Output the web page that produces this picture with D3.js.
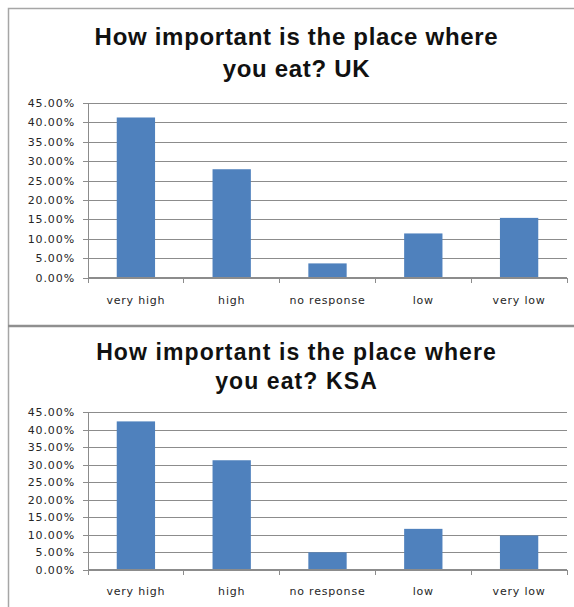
<!DOCTYPE html>
<html>
<head>
<meta charset="utf-8">
<script src="https://cdn.jsdelivr.net/npm/d3@7"></script>
<style>
  html, body { margin: 0; padding: 0; background: #fff; }
  svg { display: block; }
</style>
</head>
<body>
<svg id="chart" width="574" height="607"></svg>
<script>
// Survey answers, share of respondents (%)
const categories = ["very high", "high", "no response", "low", "very low"];
const ukValues = [41.2, 27.9, 3.7, 11.4, 15.4];
const ksaValues = [42.4, 31.3, 5.0, 11.7, 9.8];
const yTickValues = [0, 5, 10, 15, 20, 25, 30, 35, 40, 45];
const ukTitle = ["How important is the place where", "you eat? UK"];
const ksaTitle = ["How important is the place where", "you eat? KSA"];

const svg = d3.select("#chart");
const W = 574;

const barColor = "#4f81bd";
const gridColor = "#8c8c8c";
const textColor = "#262626";

// Outer frame and the divider between the two panels
svg.append("path")
  .attr("d", "M8.5,607 V8.5 H574")
  .attr("fill", "none")
  .attr("stroke", "#a6a6a6")
  .attr("stroke-width", 1.5);
svg.append("line")
  .attr("x1", 8).attr("x2", W)
  .attr("y1", 326).attr("y2", 326)
  .attr("stroke", "#8f8f8f")
  .attr("stroke-width", 2.5);

function drawPanel(cfg) {
  const g = svg.append("g");
  const left = 88, right = 567;

  // Title, two centred lines
  g.selectAll("text.title")
    .data(cfg.title)
    .join("text")
    .attr("class", "title")
    .attr("x", 296.5)
    .attr("y", (d, i) => cfg.titleY[i])
    .attr("text-anchor", "middle")
    .attr("font-family", "'Liberation Sans', Arial, sans-serif")
    .attr("font-weight", "bold")
    .attr("font-size", cfg.titleSize)
    .attr("letter-spacing", cfg.titleSpacing + "px")
    .attr("fill", "#111")
    .text(d => d);

  const x = d3.scaleBand().domain(categories).range([left, right]).padding(0);
  const y = d3.scaleLinear().domain([0, 45]).range([cfg.bottom, cfg.top]);

  // Horizontal gridlines
  g.append("g")
    .attr("transform", `translate(${left},0)`)
    .call(d3.axisLeft(y).tickValues(yTickValues).tickSize(-(right - left)).tickFormat(""))
    .call(a => a.select(".domain").remove())
    .call(a => a.selectAll("line").attr("stroke", gridColor).attr("shape-rendering", "crispEdges"));

  // Y axis with percentage labels
  g.append("g")
    .attr("transform", `translate(${left},0)`)
    .call(d3.axisLeft(y).tickValues(yTickValues).tickSize(5).tickPadding(8)
      .tickFormat(d => d.toFixed(2) + "%"))
    .call(a => a.select(".domain").attr("stroke", gridColor).attr("shape-rendering", "crispEdges"))
    .call(a => a.selectAll("line").attr("stroke", gridColor).attr("shape-rendering", "crispEdges"))
    .call(a => a.selectAll("text")
      .attr("font-family", "'DejaVu Sans', sans-serif")
      .attr("font-size", 11)
      .attr("letter-spacing", "0.9px")
      .attr("fill", textColor));

  // Bars
  const bw = x.bandwidth() * 0.4;
  g.selectAll("rect.bar")
    .data(cfg.values)
    .join("rect")
    .attr("class", "bar")
    .attr("x", (d, i) => x(categories[i]) + (x.bandwidth() - bw) / 2)
    .attr("width", bw)
    .attr("y", d => y(d))
    .attr("height", d => y(0) - y(d))
    .attr("fill", barColor);

  // X axis line with ticks on category boundaries
  g.append("line")
    .attr("x1", left).attr("x2", right)
    .attr("y1", y(0)).attr("y2", y(0))
    .attr("stroke", gridColor)
    .attr("shape-rendering", "crispEdges");
  const bounds = categories.map(c => x(c)).concat([x.range()[1]]);
  g.selectAll("line.xtick")
    .data(bounds)
    .join("line")
    .attr("class", "xtick")
    .attr("x1", d => d).attr("x2", d => d)
    .attr("y1", y(0)).attr("y2", y(0) + 5)
    .attr("stroke", gridColor)
    .attr("shape-rendering", "crispEdges");

  // Category labels
  g.append("g")
    .attr("transform", `translate(0,${y(0)})`)
    .call(d3.axisBottom(x).tickSize(0).tickPadding(cfg.labelPad))
    .call(a => a.select(".domain").remove())
    .call(a => a.selectAll("text")
      .attr("font-family", "'DejaVu Sans', sans-serif")
      .attr("font-size", 11)
      .attr("letter-spacing", "0.8px")
      .attr("fill", textColor));
}

drawPanel({
  title: ukTitle, titleY: [44.5, 76.5], titleSize: 24, titleSpacing: 0.7,
  values: ukValues, top: 102.7, bottom: 277.8, labelPad: 18
});
drawPanel({
  title: ksaTitle, titleY: [359.5, 388.5], titleSize: 23, titleSpacing: 1.1,
  values: ksaValues, top: 412.3, bottom: 569.8, labelPad: 17
});
</script>
</body>
</html>
